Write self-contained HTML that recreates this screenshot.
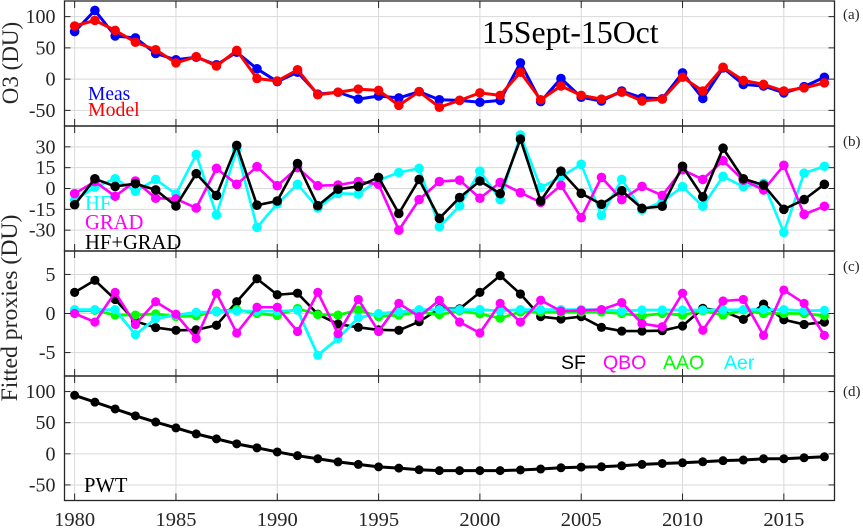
<!DOCTYPE html>
<html>
<head>
<meta charset="utf-8">
<title>15Sept-15Oct ozone fit</title>
<style>
html,body{margin:0;padding:0;background:#fff;}
svg{display:block;font-family:"Liberation Serif",serif;}
</style>
</head>
<body>
<svg id="chart" xmlns="http://www.w3.org/2000/svg" width="863" height="529" viewBox="0 0 863 529">
  <rect x="0" y="0" width="863" height="529" fill="#fff"/>
  <g id="grid"></g>
  <g id="marks"></g>
  <g id="axes"></g>
  <text transform="translate(18,63) rotate(-90)" text-anchor="middle" font-size="23" fill="#262626">O3 (DU)</text>
  <text transform="translate(17,308) rotate(-90)" text-anchor="middle" font-size="23.7" fill="#262626">Fitted proxies (DU)</text>
  <text x="482" y="43" font-size="31.8" fill="#000">15Sept-15Oct</text>
  <text x="88" y="100" font-size="19.5" fill="#0000ff">Meas</text>
  <text x="88" y="116" font-size="19.8" fill="#ff0000">Model</text>
  <text x="85" y="210" font-size="20.6" fill="#00ffff">HF</text>
  <text x="85" y="229" font-size="20.6" fill="#ff00ff">GRAD</text>
  <text x="85" y="249" font-size="20.6" fill="#000">HF+GRAD</text>
  <g font-family="'Liberation Sans',sans-serif" font-size="19.5">
    <text x="561" y="369" fill="#000">SF</text>
    <text x="603" y="369" fill="#ff00ff">QBO</text>
    <text x="663" y="369" fill="#00ff00">AAO</text>
    <text x="724" y="369" fill="#00ffff">Aer</text>
  </g>
  <text x="84" y="492" font-size="20.6" fill="#000">PWT</text>
  <text x="843" y="19" font-size="15" fill="#262626">(a)</text>
  <text x="843" y="146" font-size="15" fill="#262626">(b)</text>
  <text x="843" y="271" font-size="15" fill="#262626">(c)</text>
  <text x="843" y="396" font-size="15" fill="#262626">(d)</text>
</svg>
<script>
var years = [1980,1981,1982,1983,1984,1985,1986,1987,1988,1989,1990,1991,1992,1993,1994,1995,1996,1997,1998,1999,2000,2001,2002,2003,2004,2005,2006,2007,2008,2009,2010,2011,2012,2013,2014,2015,2016,2017];
var xTicks = [1980,1985,1990,1995,2000,2005,2010,2015];
var ticksA = [100,50,0,-50];
var ticksB = [30,15,0,-15,-30];
var ticksC = [5,0,-5];
var ticksD = [100,50,0,-50];
var meas = [76,110,69,66,41,31,35,23,43,16.5,-4,11,-24,-21,-32,-27,-30,-20,-33,-34,-37,-34,26,-36,1,-29,-35,-19,-30,-31.5,10,-31,18,-8.5,-11,-22,-12,3];
var model = [85,94,78,59,47,26,36,21,46,1,-3,15,-25,-21,-16,-18,-42,-20,-45,-34,-22,-26,11,-33,-11,-26,-32,-21,-35,-32,3,-19,19,-2,-8.5,-19,-14,-6];
var hf = [-8.5,1,7,-2,6.5,-4,24.5,-19,28,-28,-11,3,-14,-3.5,-4,6,11.5,14.5,-27.5,-12.5,12.5,-8,38.5,0.6,8.5,17.4,-19.3,6.5,-15.5,-9.5,1.3,-12.8,8.7,1.3,3.7,-31.6,11,16];
var grad = [-3.7,5,-5.6,5.4,-7,-7.5,-14,14.5,3,15.7,2,15,2,2.5,5,3,-30,-8,5,6,-7,4.4,-3,-10,2.3,-21,8,-8,1.5,-5,13.5,6.5,20,6,-1,16.7,-18.6,-12.8];
var hfGrad = [-11.7,7,1.5,3.5,-1,-12.6,10.7,-5,31,-12,-9,18,-12.4,-0.5,1.5,8,-18,6.5,-21.5,-6.5,5.4,-3.7,35.6,-9,12.5,-3.5,-11.4,-1.6,-14.3,-12.8,16,-6,29,7,2.5,-15,-8,3];
var sf = [2.7,4.25,1.8,-1,-1.8,-2.15,-2.1,-1.5,1.5,4.45,2.4,2.6,-0.1,-1.35,-1.77,-2.1,-2.15,-1.05,0.6,0.6,2.7,4.85,2.5,-0.4,-0.7,-0.4,-1.77,-2.25,-2.25,-2.2,-1.6,0.66,0.3,-0.75,1.2,-0.8,-1.4,-1.1];
var aao = [0.3,0.4,-0.2,-0.2,-0.05,-0.4,-0.3,0.3,0.5,0,-0.25,0.65,-0.15,-0.2,0.45,-0.4,-0.2,0.2,-0.15,0.35,-0.05,-0.6,0.2,0.2,0.15,0.2,0.2,0,-0.3,0,-0.2,0.35,-0.2,0.45,0,0,0,-0.3];
var aer = [0.5,0.5,0.5,-2.7,-0.65,-0.2,0.15,0.2,0.3,0.3,0.3,0.4,-5.35,-3.2,-0.55,0,0.2,0.5,0.5,0.5,0.5,0.35,0.5,0.5,0.5,0.5,0.5,0.3,0.45,0.45,0.45,0.45,0.45,0.5,0.5,0.5,0.35,0.4];
var qbo = [0,-1.1,2.7,-1.4,1.5,-0.1,-3.2,2.6,-2.5,0.8,0.8,-2.3,2.7,-2.6,1.8,-2.3,1.3,-0.4,1.7,-1.1,-2.5,1.3,-1.1,1.7,0.3,0.4,0.5,1.4,-1.3,-1.7,2.6,-2.15,1.6,1.8,-2.8,3,1.3,-2.8];
var pwt = [94,83,72,61,51,41.6,32,24,16,9.6,3,-3,-8,-13,-17,-21,-23,-25.6,-27,-27,-27,-27,-26,-24.5,-22.4,-21.3,-20.8,-19.2,-17,-15.5,-14.4,-12.8,-11,-10,-8,-8,-6.4,-4.8];

var NS = 'http://www.w3.org/2000/svg';
var PLOT_LEFT = 64.5, PLOT_RIGHT = 834.5, X_MIN = 1979.5, X_MAX = 2017.5;
var AXIS_COLOR = '#262626', GRID_COLOR = '#d9d9d9';
var gridLayer = document.getElementById('grid');
var marksLayer = document.getElementById('marks');
var axesLayer = document.getElementById('axes');

function xScale(year) {
  return PLOT_LEFT + (year - X_MIN) / (X_MAX - X_MIN) * (PLOT_RIGHT - PLOT_LEFT);
}
function makeYScale(top, bottom, vMin, vMax) {
  return function (v) {
    return top + (vMax - v) / (vMax - vMin) * (bottom - top);
  };
}
function svgEl(tag, parent) {
  var el = document.createElementNS(NS, tag);
  parent.appendChild(el);
  return el;
}
function segment(parent, x1, y1, x2, y2, color, width) {
  var l = svgEl('line', parent);
  l.setAttribute('x1', x1);
  l.setAttribute('y1', y1);
  l.setAttribute('x2', x2);
  l.setAttribute('y2', y2);
  l.setAttribute('stroke', color);
  l.setAttribute('stroke-width', width);
  
  return l;
}
function drawPanel(name, top, bottom, vMin, vMax, ticks, showYears) {
  var y = makeYScale(top, bottom, vMin, vMax);
  var i, gl, tk, px, py, label;
  for (i = 0; i < xTicks.length; i++) {
    px = xScale(xTicks[i]);
    gl = segment(gridLayer, px, top, px, bottom, GRID_COLOR, 1);
    
    tk = segment(axesLayer, px, top, px, top + 7, AXIS_COLOR, 1);
    
    tk = segment(axesLayer, px, bottom, px, bottom - 7, AXIS_COLOR, 1);
    
    if (showYears) {
      label = svgEl('text', axesLayer);
      label.setAttribute('x', px);
      label.setAttribute('y', bottom + 25.5);
      label.setAttribute('text-anchor', 'middle');
      label.setAttribute('font-size', '20.5');
      label.setAttribute('fill', AXIS_COLOR);
      
      
      label.textContent = xTicks[i];
    }
  }
  for (i = 0; i < ticks.length; i++) {
    py = y(ticks[i]);
    gl = segment(gridLayer, PLOT_LEFT, py, PLOT_RIGHT, py, GRID_COLOR, 1);
    
    tk = segment(axesLayer, PLOT_LEFT, py, PLOT_LEFT + 6, py, AXIS_COLOR, 1);
    
    tk = segment(axesLayer, PLOT_RIGHT, py, PLOT_RIGHT - 6, py, AXIS_COLOR, 1);
    
    label = svgEl('text', axesLayer);
    label.setAttribute('x', PLOT_LEFT - 9);
    label.setAttribute('y', py + 6.5);
    label.setAttribute('text-anchor', 'end');
    label.setAttribute('font-size', '20');
    label.setAttribute('fill', AXIS_COLOR);
    
    
    label.textContent = ticks[i];
  }
  var box = svgEl('rect', axesLayer);
  box.setAttribute('x', PLOT_LEFT);
  box.setAttribute('y', top);
  box.setAttribute('width', PLOT_RIGHT - PLOT_LEFT);
  box.setAttribute('height', bottom - top);
  box.setAttribute('fill', 'none');
  box.setAttribute('stroke', AXIS_COLOR);
  box.setAttribute('stroke-width', 1.3);
  
  
  return y;
}
function drawSeries(name, values, yScale, color, lineWidth, radius) {
  var g = svgEl('g', marksLayer);
  
  
  var pts = [];
  for (var i = 0; i < years.length; i++) {
    pts.push(xScale(years[i]).toFixed(2) + ',' + yScale(values[i]).toFixed(2));
  }
  var line = svgEl('polyline', g);
  line.setAttribute('points', pts.join(' '));
  line.setAttribute('fill', 'none');
  line.setAttribute('stroke', color);
  line.setAttribute('stroke-width', lineWidth);
  line.setAttribute('stroke-linejoin', 'round');
  
  
  for (var j = 0; j < years.length; j++) {
    var c = svgEl('circle', g);
    c.setAttribute('cx', xScale(years[j]).toFixed(2));
    c.setAttribute('cy', yScale(values[j]).toFixed(2));
    c.setAttribute('r', radius);
    c.setAttribute('fill', color);
    
    
  }
}

var yA = drawPanel('panel-a', 1, 126, -75, 125, ticksA, false);
var yB = drawPanel('panel-b', 126, 251, -45, 45, ticksB, false);
var yC = drawPanel('panel-c', 251, 376, -8, 8, ticksC, false);
var yD = drawPanel('panel-d', 376, 500.5, -75, 125, ticksD, true);

drawSeries('meas', meas, yA, '#0000ff', 3, 4.8);
drawSeries('model', model, yA, '#ff0000', 3, 4.8);
drawSeries('hf', hf, yB, '#00ffff', 2.6, 4.8);
drawSeries('grad', grad, yB, '#ff00ff', 2.6, 4.8);
drawSeries('hf-grad', hfGrad, yB, '#000000', 2.6, 4.8);
drawSeries('sf', sf, yC, '#000000', 2.6, 4.6);
drawSeries('aao', aao, yC, '#00ff00', 2.8, 4.6);
drawSeries('aer', aer, yC, '#00ffff', 2.8, 4.6);
drawSeries('qbo', qbo, yC, '#ff00ff', 2.6, 4.6);
drawSeries('pwt', pwt, yD, '#000000', 3, 4.5);
</script>
</body>
</html>
